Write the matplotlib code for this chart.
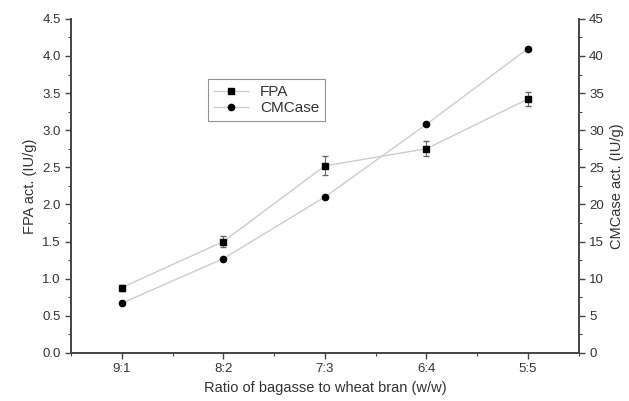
import numpy as np
import matplotlib
matplotlib.use("Agg")
import matplotlib.pyplot as plt
from matplotlib.ticker import MultipleLocator, FormatStrFormatter

# data
ratios = ["9:1", "8:2", "7:3", "6:4", "5:5"]
fpa = [0.88, 1.50, 2.52, 2.75, 3.42]
fpa_err = [0.04, 0.08, 0.13, 0.10, 0.10]
cmcase = [6.7, 12.7, 21.0, 30.8, 41.0]

plt.rcParams['font.family'] = ['Liberation Sans', 'DejaVu Sans']
txt = '#333333'

fig = plt.figure(figsize=(6.29, 4.01), dpi=100)
ax = fig.add_axes([0.113, 0.120, 0.807, 0.833])
ax2 = ax.twinx()

x = np.arange(1, len(ratios) + 1)

ax.errorbar(x, fpa, yerr=fpa_err, fmt='none', ecolor='#666666', elinewidth=0.8, capsize=2)
l1, = ax.plot(x, fpa, 's-', color='#cccccc', mfc='black', mec='black', ms=4.5, lw=1.0,
              label='FPA')
l2, = ax2.plot(x, cmcase, 'o-', color='#cccccc', mfc='black', mec='black', ms=4.5, lw=1.0,
               label='CMCase')

ax.set_xlim(0.5, 5.5)
ax.set_ylim(0, 4.5)
ax2.set_ylim(0, 45)
ax.set_xticks(x)
ax.set_xticklabels(ratios)
ax.xaxis.set_minor_locator(MultipleLocator(0.5))
ax.yaxis.set_major_locator(MultipleLocator(0.5))
ax.yaxis.set_minor_locator(MultipleLocator(0.25))
ax2.yaxis.set_major_locator(MultipleLocator(5))
ax2.yaxis.set_minor_locator(MultipleLocator(2.5))
ax.yaxis.set_major_formatter(FormatStrFormatter('%.1f'))

for a in (ax, ax2):
    a.spines['top'].set_visible(False)
    for s in a.spines.values():
        s.set_color('#444444')
        s.set_linewidth(1.2)
    a.tick_params(which='major', direction='out', length=4, width=1, colors='#444444',
                  labelcolor=txt, labelsize=9.5)
    a.tick_params(which='minor', direction='out', length=2, width=0.8, colors='#444444')

ax.set_xlabel('Ratio of bagasse to wheat bran (w/w)', fontsize=10.5, color=txt)
ax.set_ylabel('FPA act. (IU/g)', fontsize=10.5, color=txt)
ax2.set_ylabel('CMCase act. (IU/g)', fontsize=10.5, color=txt)

leg = ax.legend([l1, l2], ['FPA', 'CMCase'], loc='upper left',
                bbox_to_anchor=(0.27, 0.82), borderaxespad=0, fontsize=11, frameon=True,
                fancybox=False, handlelength=2.2, borderpad=0.4, labelspacing=0.15)
leg.get_frame().set_edgecolor('#777777')
leg.get_frame().set_linewidth(0.8)
for t in leg.get_texts():
    t.set_color(txt)

fig.savefig('out.png', dpi=100)
